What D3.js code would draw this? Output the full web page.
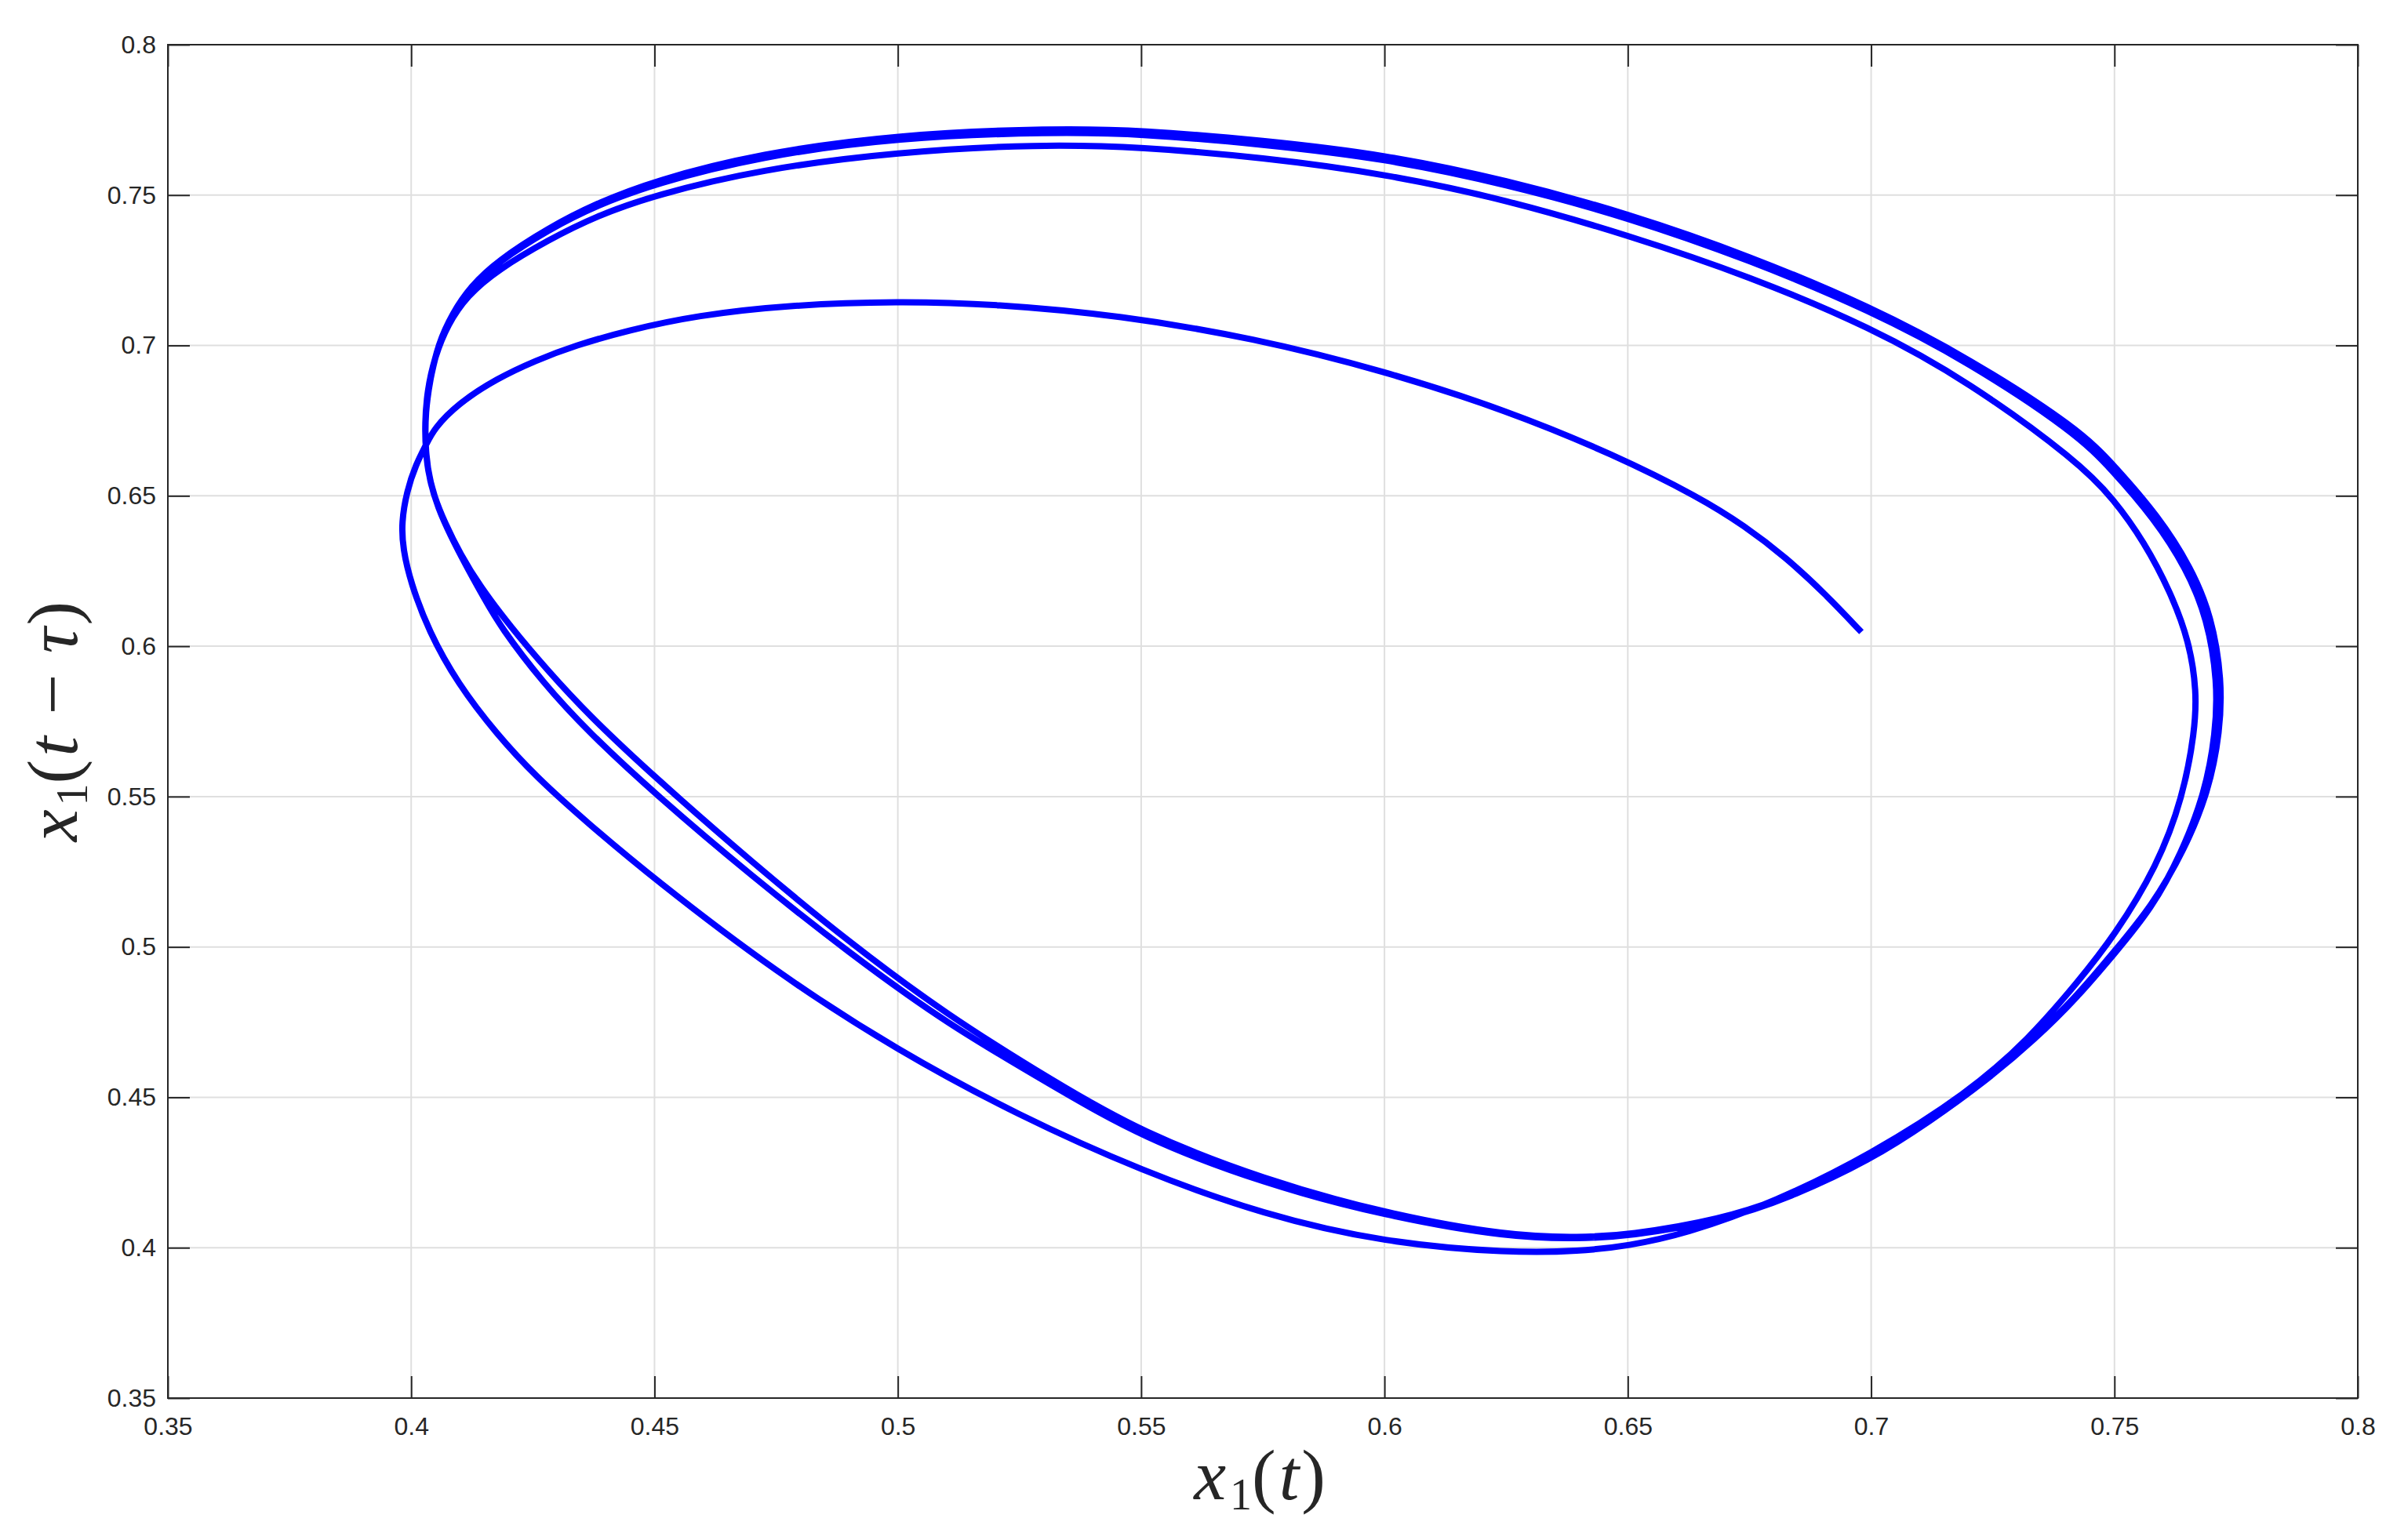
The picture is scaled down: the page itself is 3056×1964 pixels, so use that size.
<!DOCTYPE html>
<html>
<head>
<meta charset="utf-8">
<script src="https://cdn.jsdelivr.net/npm/d3@7"></script>
<style>
  html, body { margin: 0; padding: 0; background: #ffffff; }
  svg { display: block; }
</style>
</head>
<body>
<script>
// ---------------- data ----------------
const xTicks = [0.35, 0.4, 0.45, 0.5, 0.55, 0.6, 0.65, 0.7, 0.75, 0.8];
const yTicks = [0.35, 0.4, 0.45, 0.5, 0.55, 0.6, 0.65, 0.7, 0.75, 0.8];
const xTickLabels = ["0.35", "0.4", "0.45", "0.5", "0.55", "0.6", "0.65", "0.7", "0.75", "0.8"];
const yTickLabels = ["0.35", "0.4", "0.45", "0.5", "0.55", "0.6", "0.65", "0.7", "0.75", "0.8"];

// trajectory x1(t) vs x1(t - tau), pass 1 (transient)
const pass1 = [
  [0.6980, 0.6047], [0.6905, 0.6175], [0.6825, 0.6295], [0.6740, 0.6400], [0.6647, 0.6495],
  [0.6472, 0.6637], [0.6250, 0.6785], [0.6000, 0.6915], [0.5730, 0.7025], [0.5456, 0.7100],
  [0.5200, 0.7138], [0.5000, 0.7147], [0.4780, 0.7135], [0.4586, 0.7100], [0.4445, 0.7050],
  [0.4337, 0.7000], [0.4256, 0.6950], [0.4176, 0.6890], [0.4095, 0.6805], [0.4047, 0.6723],
  [0.4031, 0.6671], [0.4009, 0.6602], [0.3991, 0.6515], [0.3980, 0.6411], [0.3983, 0.6324],
  [0.3999, 0.6211], [0.4036, 0.6050], [0.4095, 0.5877], [0.4176, 0.5707], [0.4256, 0.5567],
  [0.4359, 0.5417], [0.4500, 0.5225], [0.4750, 0.4915], [0.5000, 0.4655], [0.5250, 0.4438],
  [0.5500, 0.4256], [0.5754, 0.4108], [0.6000, 0.4017], [0.6258, 0.3982], [0.6402, 0.3988],
  [0.6500, 0.4006], [0.6617, 0.4045], [0.6800, 0.4150], [0.7000, 0.4310], [0.7200, 0.4515],
  [0.7325, 0.4695], [0.7426, 0.4886], [0.7499, 0.5035], [0.7588, 0.5268], [0.7641, 0.5500],
  [0.7665, 0.5716], [0.7669, 0.5849], [0.7654, 0.6015], [0.7615, 0.6181], [0.7561, 0.6347],
  [0.7499, 0.6488], [0.7426, 0.6613], [0.7200, 0.6880], [0.7000, 0.7060], [0.6750, 0.7230],
  [0.6500, 0.7367], [0.6250, 0.7485], [0.6000, 0.7571], [0.5750, 0.7625], [0.5500, 0.7660],
  [0.5290, 0.7669], [0.5000, 0.7644], [0.4715, 0.7585], [0.4500, 0.7500], [0.4380, 0.7430],
  [0.4283, 0.7352]
];
// pass 2
const pass2 = [
  [0.4176, 0.7250], [0.4115, 0.7165], [0.4075, 0.7070], [0.4048, 0.6960], [0.4033, 0.6850],
  [0.4028, 0.6740], [0.4030, 0.6640], [0.4038, 0.6550], [0.4055, 0.6460], [0.4080, 0.6370],
  [0.4112, 0.6270], [0.4148, 0.6165], [0.4184, 0.6063], [0.4270, 0.5880], [0.4364, 0.5715],
  [0.4500, 0.5510], [0.4700, 0.5235], [0.4900, 0.4980], [0.5100, 0.4745], [0.5322, 0.4535],
  [0.5500, 0.4367], [0.5754, 0.4212], [0.6000, 0.4106], [0.6258, 0.4033], [0.6402, 0.4030],
  [0.6500, 0.4038], [0.6690, 0.4088], [0.6833, 0.4166], [0.6999, 0.4292], [0.7121, 0.4420],
  [0.7236, 0.4555], [0.7335, 0.4690], [0.7426, 0.4836], [0.7499, 0.4976], [0.7577, 0.5128],
  [0.7638, 0.5312], [0.7686, 0.5512], [0.7708, 0.5712], [0.7712, 0.5880], [0.7691, 0.6092],
  [0.7648, 0.6258], [0.7582, 0.6424], [0.7494, 0.6588], [0.7420, 0.6710], [0.7200, 0.6945],
  [0.7000, 0.7115], [0.6750, 0.7285], [0.6500, 0.7426], [0.6250, 0.7537], [0.6000, 0.7622],
  [0.5750, 0.7669], [0.5500, 0.7704], [0.5320, 0.7710], [0.5000, 0.7692], [0.4715, 0.7628],
  [0.4500, 0.7538], [0.4380, 0.7465], [0.4283, 0.7386]
];
// pass 3 (settled cycle)
const pass3 = [
  [0.4176, 0.7275], [0.4122, 0.7193], [0.4085, 0.7106], [0.4055, 0.7002], [0.4039, 0.6889],
  [0.4029, 0.6776], [0.4029, 0.6671], [0.4034, 0.6584], [0.4047, 0.6498], [0.4069, 0.6411],
  [0.4101, 0.6306], [0.4140, 0.6202], [0.4205, 0.6063], [0.4280, 0.5920], [0.4364, 0.5772],
  [0.4500, 0.5565], [0.4700, 0.5282], [0.4900, 0.5015], [0.5100, 0.4775], [0.5322, 0.4551],
  [0.5500, 0.4384], [0.5754, 0.4225], [0.6000, 0.4114], [0.6258, 0.4038], [0.6402, 0.4034],
  [0.6500, 0.4042], [0.6690, 0.4093], [0.6833, 0.4170], [0.6999, 0.4297], [0.7121, 0.4425],
  [0.7236, 0.4560], [0.7335, 0.4697], [0.7426, 0.4842], [0.7499, 0.4984], [0.7577, 0.5136],
  [0.7643, 0.5320], [0.7694, 0.5518], [0.7717, 0.5718], [0.7721, 0.5884], [0.7700, 0.6100],
  [0.7656, 0.6266], [0.7590, 0.6433], [0.7501, 0.6598], [0.7428, 0.6722], [0.7200, 0.6958],
  [0.7000, 0.7128], [0.6750, 0.7298], [0.6500, 0.7439], [0.6250, 0.7550], [0.6000, 0.7635],
  [0.5750, 0.7682], [0.5500, 0.7716], [0.5320, 0.7722], [0.5000, 0.7702], [0.4715, 0.7638],
  [0.4500, 0.7548], [0.4380, 0.7472], [0.4283, 0.7392], [0.4176, 0.7280], [0.4122, 0.7196],
  [0.4085, 0.7108], [0.4055, 0.7004], [0.4040, 0.6890]
];
const trajectory = pass1.concat(pass2, pass3);

// ---------------- chart ----------------
const W = 3056, H = 1964;
const L = 214, R = 3006, T = 57, B = 1783;
const axisColor = "#262626";

const svg = d3.select("body").append("svg")
  .attr("width", W).attr("height", H)
  .attr("viewBox", `0 0 ${W} ${H}`);

svg.append("rect").attr("width", W).attr("height", H).attr("fill", "#ffffff");

const x = d3.scaleLinear().domain([0.35, 0.8]).range([L, R]);
const y = d3.scaleLinear().domain([0.35, 0.8]).range([B, T]);

// grid
const grid = svg.append("g").attr("class", "grid");
grid.selectAll("line.vx").data(xTicks.slice(1, -1)).join("line")
  .attr("class", "vx")
  .attr("x1", d => x(d)).attr("x2", d => x(d))
  .attr("y1", T).attr("y2", B)
  .attr("stroke", "#dfdfdf").attr("stroke-width", 2);
grid.selectAll("line.hy").data(yTicks.slice(1, -1)).join("line")
  .attr("class", "hy")
  .attr("x1", L).attr("x2", R)
  .attr("y1", d => y(d)).attr("y2", d => y(d))
  .attr("stroke", "#dfdfdf").attr("stroke-width", 2);

// data
const line = d3.line()
  .x(d => x(d[0]))
  .y(d => y(d[1]))
  .curve(d3.curveBasis);

svg.append("path")
  .datum(trajectory)
  .attr("d", line)
  .attr("fill", "none")
  .attr("stroke", "#0000ff")
  .attr("stroke-width", 8)
  .attr("stroke-linejoin", "round")
  .attr("stroke-linecap", "butt");

// axes (inner ticks on all four sides)
const tickLen = 28;
const fmtX = (d, i) => xTickLabels[i];
const fmtY = (d, i) => yTickLabels[i];

function styleAxis(g) {
  g.select(".domain").remove();
  g.selectAll(".tick line").attr("stroke", axisColor).attr("stroke-width", 2);
  g.selectAll(".tick text")
    .attr("fill", axisColor)
    .style("font-family", "'Liberation Sans', Arial, Helvetica, sans-serif")
    .style("font-size", "32px");
}

svg.append("g").attr("transform", `translate(0,${B})`)
  .call(d3.axisBottom(x).tickValues(xTicks).tickFormat(fmtX).tickSizeInner(-tickLen).tickSizeOuter(0))
  .call(styleAxis)
  .call(g => g.selectAll(".tick text").attr("dy", "0.71em").attr("y", 24));

svg.append("g").attr("transform", `translate(${L},0)`)
  .call(d3.axisLeft(y).tickValues(yTicks).tickFormat(fmtY).tickSizeInner(-tickLen).tickSizeOuter(0))
  .call(styleAxis)
  .call(g => g.selectAll(".tick text").attr("x", -15));

svg.append("g").attr("transform", `translate(0,${T})`)
  .call(d3.axisTop(x).tickValues(xTicks).tickFormat("").tickSizeInner(-tickLen).tickSizeOuter(0))
  .call(styleAxis);

svg.append("g").attr("transform", `translate(${R},0)`)
  .call(d3.axisRight(y).tickValues(yTicks).tickFormat("").tickSizeInner(-tickLen).tickSizeOuter(0))
  .call(styleAxis);

// frame
svg.append("rect")
  .attr("x", L).attr("y", T).attr("width", R - L).attr("height", B - T)
  .attr("fill", "none").attr("stroke", axisColor).attr("stroke-width", 2);

// axis labels (math style)
const labelFont = "'Liberation Serif', 'Times New Roman', serif";

const xl = svg.append("text")
  .attr("x", (L + R) / 2 - 4).attr("y", 1912)
  .attr("text-anchor", "middle")
  .style("font-family", labelFont).style("font-size", "92px").attr("fill", axisColor);
xl.append("tspan").style("font-style", "italic").text("x");
xl.append("tspan").attr("dx", 5).attr("dy", 13).style("font-size", "56px").text("1");
xl.append("tspan").attr("dy", -13).text("(");
xl.append("tspan").attr("dx", 4).style("font-style", "italic").text("t");
xl.append("tspan").attr("dx", 3).text(")");

const yl = svg.append("text")
  .attr("transform", `translate(98,${(T + B) / 2}) rotate(-90)`)
  .attr("text-anchor", "middle")
  .style("font-family", labelFont).style("font-size", "92px").attr("fill", axisColor);
yl.append("tspan").style("font-style", "italic").text("x");
yl.append("tspan").attr("dx", 5).attr("dy", 13).style("font-size", "56px").text("1");
yl.append("tspan").attr("dy", -13).text("(");
yl.append("tspan").attr("dx", 4).style("font-style", "italic").text("t");
yl.append("tspan").attr("dx", 28).text("\u2212");
yl.append("tspan").attr("dx", 26).style("font-style", "italic").text("\u03C4");
yl.append("tspan").attr("dx", 3).text(")");
</script>
</body>
</html>
